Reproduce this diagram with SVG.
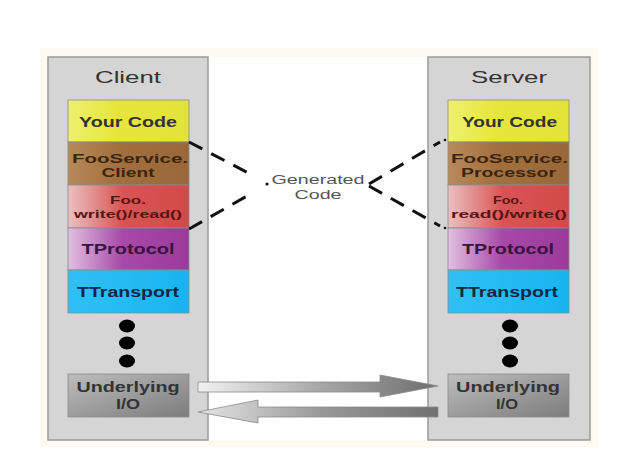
<svg xmlns="http://www.w3.org/2000/svg" width="627" height="470" viewBox="0 0 627 470">
<style>
.title{font-family:"Liberation Sans",Arial,sans-serif;font-size:17px;fill:#333;text-anchor:middle}
.lbl{font-family:"Liberation Sans",Arial,sans-serif;font-weight:bold;font-size:14px;text-anchor:middle}
.two{font-size:12.5px}
.sm{font-size:11.5px}
.gen{font-family:"Liberation Sans",Arial,sans-serif;font-size:12.5px;fill:#555;text-anchor:middle}
.panel{fill:#d5d5d5;stroke:#9a9a9a;stroke-width:1.5}
.box{stroke:#8a8a8a;stroke-width:0.8}
.dash{stroke:#111;stroke-width:3;stroke-dasharray:15 10;fill:none}
</style>
<defs>
<linearGradient id="gY" x1="0" x2="1"><stop offset="0" stop-color="#eef070"/><stop offset="0.4" stop-color="#e6e63a"/><stop offset="1" stop-color="#e2e238"/></linearGradient>
<linearGradient id="gB" x1="0" x2="1"><stop offset="0" stop-color="#b88a5a"/><stop offset="0.4" stop-color="#a2703e"/><stop offset="1" stop-color="#9a6838"/></linearGradient>
<linearGradient id="gR" x1="0" x2="1"><stop offset="0" stop-color="#ecc0c0"/><stop offset="0.45" stop-color="#d85454"/><stop offset="1" stop-color="#d24a48"/></linearGradient>
<linearGradient id="gP" x1="0" x2="1"><stop offset="0" stop-color="#e0c0e0"/><stop offset="0.45" stop-color="#a848a8"/><stop offset="1" stop-color="#9a3a9a"/></linearGradient>
<linearGradient id="gC" x1="0" x2="1"><stop offset="0" stop-color="#30c0f4"/><stop offset="1" stop-color="#18b4f0"/></linearGradient>
<linearGradient id="gG" x1="0" y1="0" x2="1" y2="1"><stop offset="0" stop-color="#bdbdbd"/><stop offset="1" stop-color="#7c7c7c"/></linearGradient>
<linearGradient id="aR" x1="0" x2="1"><stop offset="0" stop-color="#f2f2f2"/><stop offset="0.5" stop-color="#a8a8a8"/><stop offset="1" stop-color="#6e6e6e"/></linearGradient>
<linearGradient id="aL" x1="1" x2="0"><stop offset="0" stop-color="#707070"/><stop offset="0.5" stop-color="#9a9a9a"/><stop offset="1" stop-color="#e6e6e6"/></linearGradient>
</defs>
<rect x="0" y="0" width="627" height="470" fill="#ffffff"/>
<rect x="40" y="48" width="558" height="399" fill="#fdfbf1"/>
<rect x="208" y="57" width="220" height="383" fill="#ffffff"/>

<g id="client">
<rect class="panel" x="48" y="57" width="160" height="383"/>
<text class="title" x="128" y="83" textLength="66" lengthAdjust="spacingAndGlyphs">Client</text>
</g>
<g id="client-yourcode"><rect class="box" x="68" y="100" width="121" height="42" fill="url(#gY)"/><text class="lbl" x="128" y="127" fill="#333" textLength="98" lengthAdjust="spacingAndGlyphs">Your Code</text></g>
<g id="client-fooservice"><rect class="box" x="68" y="142" width="121" height="43" fill="url(#gB)"/><text class="lbl two" x="130" y="163" fill="#3a2612" textLength="116" lengthAdjust="spacingAndGlyphs">FooService.</text><text class="lbl two" x="128" y="177" fill="#3a2612" textLength="53" lengthAdjust="spacingAndGlyphs">Client</text></g>
<g id="client-foo"><rect class="box" x="68" y="185" width="121" height="43" fill="url(#gR)"/><text class="lbl sm" x="128" y="204" fill="#5a1414" textLength="36" lengthAdjust="spacingAndGlyphs">Foo.</text><text class="lbl sm" x="128" y="217.5" fill="#5a1414" textLength="108" lengthAdjust="spacingAndGlyphs">write()/read()</text></g>
<g id="client-tprotocol"><rect class="box" x="68" y="228" width="121" height="42" fill="url(#gP)"/><text class="lbl" x="128" y="254" fill="#3a1440" textLength="93" lengthAdjust="spacingAndGlyphs">TProtocol</text></g>
<g id="client-ttransport"><rect class="box" x="68" y="270" width="121" height="43" fill="url(#gC)"/><text class="lbl" x="128" y="297" fill="#142642" textLength="102" lengthAdjust="spacingAndGlyphs">TTransport</text></g>
<g id="client-dots" fill="#000"><ellipse cx="127" cy="326" rx="8" ry="6.5"/><ellipse cx="127" cy="343" rx="8" ry="6.5"/><ellipse cx="127" cy="361" rx="8" ry="6.5"/></g>
<g id="client-io"><rect class="box" x="68" y="374" width="121" height="43" fill="url(#gG)" stroke="#666"/><text class="lbl" x="128" y="392" fill="#333" textLength="103" lengthAdjust="spacingAndGlyphs">Underlying</text><text class="lbl" x="128" y="409" fill="#333" textLength="24" lengthAdjust="spacingAndGlyphs">I/O</text></g>

<g id="server">
<rect class="panel" x="428" y="57" width="162" height="383"/>
<text class="title" x="509" y="83" textLength="76" lengthAdjust="spacingAndGlyphs">Server</text>
</g>
<g id="server-yourcode"><rect class="box" x="448" y="100" width="121" height="42" fill="url(#gY)"/><text class="lbl" x="509.5" y="127" fill="#333" textLength="95" lengthAdjust="spacingAndGlyphs">Your Code</text></g>
<g id="server-fooservice"><rect class="box" x="448" y="142" width="121" height="43" fill="url(#gB)"/><text class="lbl two" x="509.5" y="163" fill="#3a2612" textLength="117" lengthAdjust="spacingAndGlyphs">FooService.</text><text class="lbl two" x="508.5" y="177" fill="#3a2612" textLength="95" lengthAdjust="spacingAndGlyphs">Processor</text></g>
<g id="server-foo"><rect class="box" x="448" y="185" width="121" height="43" fill="url(#gR)"/><text class="lbl sm" x="508" y="204" fill="#5a1414" textLength="30" lengthAdjust="spacingAndGlyphs">Foo.</text><text class="lbl sm" x="509" y="217.5" fill="#5a1414" textLength="116" lengthAdjust="spacingAndGlyphs">read()/write()</text></g>
<g id="server-tprotocol"><rect class="box" x="448" y="228" width="121" height="42" fill="url(#gP)"/><text class="lbl" x="508" y="254" fill="#3a1440" textLength="92" lengthAdjust="spacingAndGlyphs">TProtocol</text></g>
<g id="server-ttransport"><rect class="box" x="448" y="270" width="121" height="43" fill="url(#gC)"/><text class="lbl" x="507" y="297" fill="#142642" textLength="102" lengthAdjust="spacingAndGlyphs">TTransport</text></g>
<g id="server-dots" fill="#000"><ellipse cx="510" cy="326" rx="8" ry="6.5"/><ellipse cx="510" cy="343" rx="8" ry="6.5"/><ellipse cx="510" cy="361" rx="8" ry="6.5"/></g>
<g id="server-io"><rect class="box" x="448" y="374" width="121" height="43" fill="url(#gG)" stroke="#666"/><text class="lbl" x="508" y="392" fill="#333" textLength="104" lengthAdjust="spacingAndGlyphs">Underlying</text><text class="lbl" x="507" y="409" fill="#333" textLength="22" lengthAdjust="spacingAndGlyphs">I/O</text></g>

<g id="generated-code">
<text class="gen" x="318" y="184" textLength="93" lengthAdjust="spacingAndGlyphs">Generated</text>
<text class="gen" x="318" y="198.5" textLength="47" lengthAdjust="spacingAndGlyphs">Code</text>
</g>

<g id="connectors">
<path class="dash" d="M189,142 L254,176"/>
<path class="dash" d="M189,229 L254,192"/>
<circle cx="267" cy="184" r="1.6" fill="#111"/>
<path class="dash" d="M369,184 L440,142"/>
<path class="dash" d="M369,186 L440,226"/>
<circle cx="445" cy="140" r="1.3" fill="#111"/>
<circle cx="445" cy="228" r="1.3" fill="#111"/>
<polygon points="198,382 380,382 380,375 438,386 380,397 380,392 198,392" fill="url(#aR)" stroke="#8a8a8a" stroke-width="0.8"/>
<polygon points="438,407 258,407 258,400 198,412 258,423 258,417 438,417" fill="url(#aL)" stroke="#8a8a8a" stroke-width="0.8"/>
</g>
</svg>
